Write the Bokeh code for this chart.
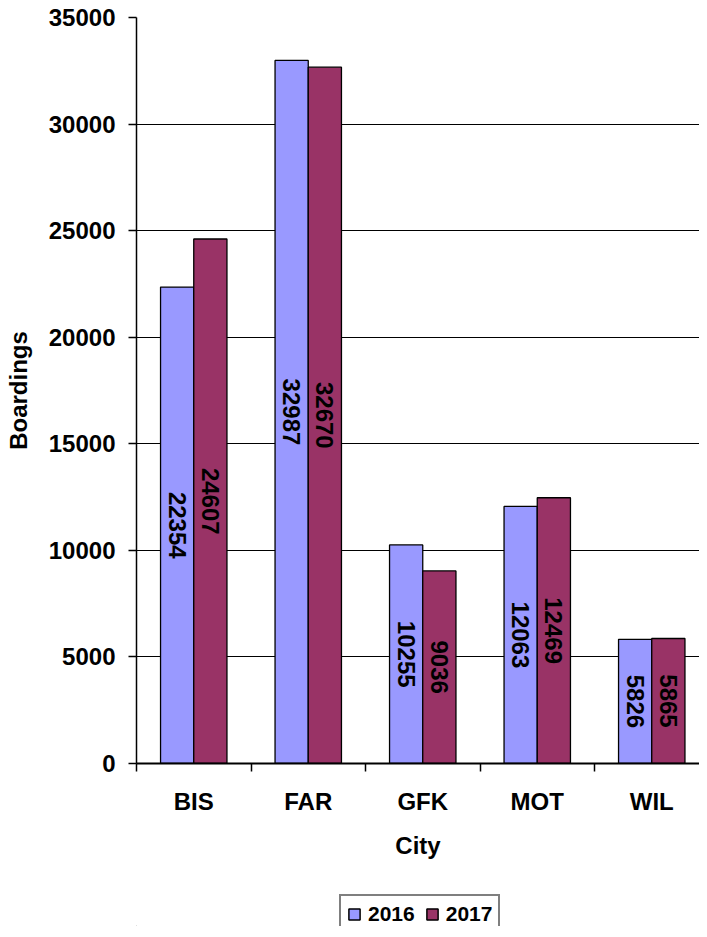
import math
from bokeh.plotting import figure
from bokeh.layouts import column
from bokeh.models import FixedTicker, Range1d, Legend, LegendItem, ColumnDataSource
from bokeh.core.properties import value
from bokeh.embed import file_html
from bokeh.resources import INLINE

cities = ["BIS", "FAR", "GFK", "MOT", "WIL"]
years = ["2016", "2017"]
boardings_2016 = [22354, 32987, 10255, 12063, 5826]
boardings_2017 = [24607, 32670, 9036, 12469, 5865]
y_ticks = [0, 5000, 10000, 15000, 20000, 25000, 30000, 35000]

FONT = "Liberation Sans"
C2016 = "#9999FF"
C2017 = "#993366"
BAR_W = 0.29

centers = [i + 0.5 for i in range(len(cities))]
x2016 = [c - BAR_W / 2 for c in centers]
x2017 = [c + BAR_W / 2 for c in centers]

src16 = ColumnDataSource(dict(x=x2016, top=boardings_2016,
                              mid=[v / 2 for v in boardings_2016],
                              txt=[str(v) for v in boardings_2016]))
src17 = ColumnDataSource(dict(x=x2017, top=boardings_2017,
                              mid=[v / 2 for v in boardings_2017],
                              txt=[str(v) for v in boardings_2017]))

p = figure(width=699, height=886, output_backend="svg", toolbar_location=None,
           x_range=Range1d(0, 4.917), y_range=Range1d(0, 35000),
           min_border_left=136, min_border_right=0, min_border_top=17,
           min_border_bottom=123, background_fill_color="white",
           border_fill_color="white")
p.outline_line_color = None

r16 = p.vbar(x="x", top="top", width=BAR_W, bottom=0, source=src16,
             fill_color=C2016, line_color="black", line_width=1.3)
r17 = p.vbar(x="x", top="top", width=BAR_W, bottom=0, source=src17,
             fill_color=C2017, line_color="black", line_width=1.3)

for s in (src16, src17):
    p.text(x="x", y="mid", text="txt", source=s, angle=-math.pi / 2,
           text_align="center", text_baseline="middle",
           text_font=value(FONT), text_font_style="bold",
           text_font_size="24px", text_color="black")

# grid
p.xgrid.grid_line_color = None
p.ygrid.grid_line_color = "black"
p.ygrid.grid_line_width = 1
p.ygrid.ticker = FixedTicker(ticks=y_ticks)

# y axis
p.yaxis.ticker = FixedTicker(ticks=y_ticks)
p.yaxis.axis_label = "Boardings"
p.yaxis.axis_label_text_font = FONT
p.yaxis.axis_label_text_font_style = "bold"
p.yaxis.axis_label_text_font_size = "24px"
p.yaxis.axis_label_text_color = "black"
p.yaxis.axis_label_standoff = 14
p.yaxis.major_label_text_font = FONT
p.yaxis.major_label_text_font_style = "bold"
p.yaxis.major_label_text_font_size = "24px"
p.yaxis.major_label_text_color = "black"
p.yaxis.major_label_standoff = 13
p.yaxis.major_tick_out = 8
p.yaxis.major_tick_in = 0
p.yaxis.major_tick_line_color = "black"
p.yaxis.major_tick_line_width = 1.5
p.yaxis.minor_tick_line_color = None
p.yaxis.axis_line_color = "black"
p.yaxis.axis_line_width = 1.5

# x axis: labels at category centres, tick marks at category boundaries
p.xaxis.ticker = FixedTicker(ticks=centers, minor_ticks=list(range(len(cities) + 1)))
p.xaxis.major_label_overrides = {c: name for c, name in zip(centers, cities)}
p.xaxis.axis_label = "City"
p.xaxis.axis_label_text_font = FONT
p.xaxis.axis_label_text_font_style = "bold"
p.xaxis.axis_label_text_font_size = "24px"
p.xaxis.axis_label_text_color = "black"
p.xaxis.axis_label_standoff = 14
p.xaxis.major_label_text_font = FONT
p.xaxis.major_label_text_font_style = "bold"
p.xaxis.major_label_text_font_size = "24px"
p.xaxis.major_label_text_color = "black"
p.xaxis.major_label_standoff = 16
p.xaxis.major_tick_out = 8
p.xaxis.major_tick_in = 0
p.xaxis.major_tick_line_color = None
p.xaxis.minor_tick_out = 8
p.xaxis.minor_tick_in = 0
p.xaxis.minor_tick_line_color = "black"
p.xaxis.minor_tick_line_width = 1.5
p.xaxis.axis_line_color = "black"
p.xaxis.axis_line_width = 2

# legend strip underneath
lg = figure(width=699, height=40, output_backend="svg", toolbar_location=None,
            x_axis_location=None, y_axis_location=None,
            x_range=Range1d(0, 1), y_range=Range1d(0, 1),
            min_border=0, background_fill_color="white",
            border_fill_color="white")
lg.outline_line_color = None
lg.xgrid.grid_line_color = None
lg.ygrid.grid_line_color = None
# swatch renderers: one point each, kept outside the visible range
k16 = lg.vbar(x=[-5], top=[0], width=0.1,
              fill_color=C2016, line_color="black", line_width=1.5)
k17 = lg.vbar(x=[-5], top=[0], width=0.1,
              fill_color=C2017, line_color="black", line_width=1.5)

legend = Legend(items=[LegendItem(label=years[0], renderers=[k16]),
                       LegendItem(label=years[1], renderers=[k17])],
                orientation="horizontal", location=(203, -8),
                label_text_font=FONT, label_text_font_style="bold",
                label_text_font_size="21px", label_text_color="black",
                glyph_width=14, glyph_height=14, label_standoff=7,
                spacing=10, padding=6, margin=0,
                border_line_color="black", border_line_width=2,
                background_fill_color="white", background_fill_alpha=1)
lg.add_layout(legend, "center")

layout = column(p, lg, spacing=0)
open("out.html", "w").write(file_html(layout, INLINE))
